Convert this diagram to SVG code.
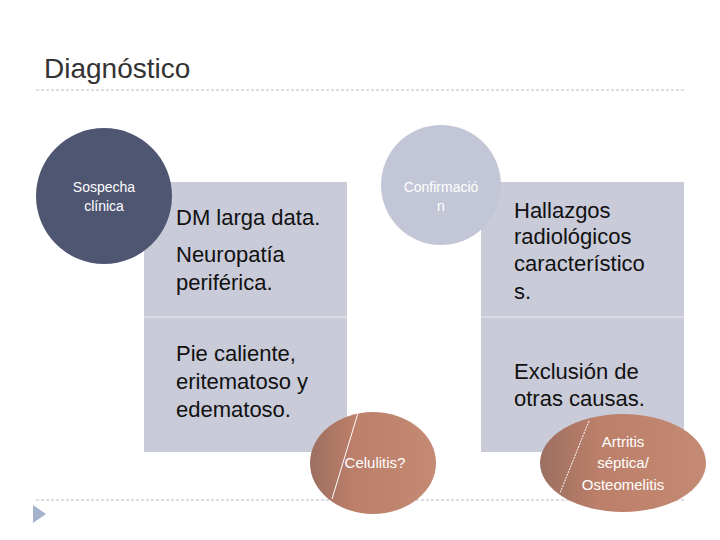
<svg xmlns="http://www.w3.org/2000/svg" width="720" height="540" viewBox="0 0 720 540">
<defs>
<linearGradient id="rg" x1="0" y1="0" x2="1" y2="0">
<stop offset="0" stop-color="#9c6f60"/><stop offset="0.35" stop-color="#bc7f6a"/><stop offset="1" stop-color="#c48a73"/>
</linearGradient>
</defs>
<style>
.box{fill:#c9cbd9}
.dash{stroke:#b8bcc6;stroke-width:1;stroke-dasharray:3,2}
.big{font-family:"Liberation Sans",Arial,sans-serif;font-size:22px;fill:#111}
.sm{font-family:"Liberation Sans",Arial,sans-serif;font-size:14px;fill:#fff}
.el{font-family:"Liberation Sans",Arial,sans-serif;font-size:15px;fill:#fff}
</style>
<rect width="720" height="540" fill="#fff"/>
<text x="44" y="78" font-family="'Liberation Sans',Arial,sans-serif" font-size="28" fill="#333">Diagnóstico</text>
<line class="dash" x1="36" y1="90" x2="685" y2="90"/>
<line class="dash" x1="36" y1="500" x2="685" y2="500"/>
<polygon points="33,505 46,514 33,523" fill="#a3b3cc"/>
<g id="box-left">
<rect class="box" x="144" y="182" width="203" height="270"/>
<line x1="144" y1="317" x2="347" y2="317" stroke="#dfe0e8" stroke-width="1.5"/>
<text class="big" x="176" y="225">DM larga data.</text>
<text class="big" x="176" y="262">Neuropatía</text>
<text class="big" x="176" y="290">periférica.</text>
<text class="big" x="176" y="361">Pie caliente,</text>
<text class="big" x="176" y="389">eritematoso y</text>
<text class="big" x="176" y="417">edematoso.</text>
</g>
<g id="box-right">
<rect class="box" x="481" y="182" width="203" height="270"/>
<line x1="481" y1="317" x2="684" y2="317" stroke="#dfe0e8" stroke-width="1.5"/>
<text class="big" x="514" y="218">Hallazgos</text>
<text class="big" x="514" y="244">radiológicos</text>
<text class="big" x="514" y="271">característico</text>
<text class="big" x="514" y="299">s.</text>
<text class="big" x="514" y="379">Exclusión de</text>
<text class="big" x="514" y="406">otras causas.</text>
</g>
<g id="sospecha">
<circle cx="104" cy="196" r="68" fill="#4f5672"/>
<text class="sm" x="104" y="192" text-anchor="middle">Sospecha</text>
<text class="sm" x="104" y="211" text-anchor="middle">clínica</text>
</g>
<g id="confirmacion">
<circle cx="441" cy="185" r="60" fill="#c3c6d6"/>
<text class="sm" x="441" y="192" text-anchor="middle">Confirmació</text>
<text class="sm" x="441" y="211" text-anchor="middle">n</text>
</g>
<g id="celulitis">
<ellipse cx="373" cy="463" rx="63" ry="51" fill="url(#rg)"/>
<line x1="358" y1="413" x2="332" y2="499" stroke="#fff" stroke-width="1"/>
<text class="el" x="375" y="468" text-anchor="middle">Celulitis?</text>
</g>
<g id="artritis">
<ellipse cx="623" cy="463" rx="83" ry="49" fill="url(#rg)"/>
<line x1="589" y1="421" x2="560" y2="493" stroke="#fff" stroke-width="1" stroke-dasharray="2,1"/>
<text class="el" x="623" y="447" text-anchor="middle">Artritis</text>
<text class="el" x="623" y="468" text-anchor="middle">séptica/</text>
<text class="el" x="623" y="490" text-anchor="middle">Osteomelitis</text>
</g>
<g id="connectors"></g>
</svg>
